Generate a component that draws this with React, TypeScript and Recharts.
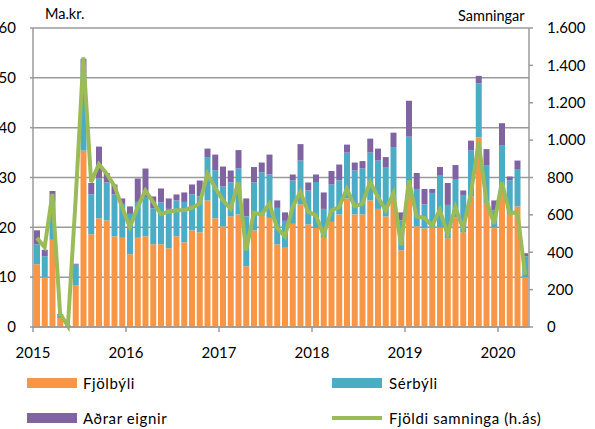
import { ComposedChart, Bar, Line, XAxis, YAxis, CartesianGrid } from "recharts";

const months = [
  "2015-01", "2015-02", "2015-03", "2015-04", "2015-05", "2015-06", "2015-07", "2015-08", "2015-09", "2015-10", "2015-11", "2015-12",
  "2016-01", "2016-02", "2016-03", "2016-04", "2016-05", "2016-06", "2016-07", "2016-08", "2016-09", "2016-10", "2016-11", "2016-12",
  "2017-01", "2017-02", "2017-03", "2017-04", "2017-05", "2017-06", "2017-07", "2017-08", "2017-09", "2017-10", "2017-11", "2017-12",
  "2018-01", "2018-02", "2018-03", "2018-04", "2018-05", "2018-06", "2018-07", "2018-08", "2018-09", "2018-10", "2018-11", "2018-12",
  "2019-01", "2019-02", "2019-03", "2019-04", "2019-05", "2019-06", "2019-07", "2019-08", "2019-09", "2019-10", "2019-11", "2019-12",
  "2020-01", "2020-02", "2020-03", "2020-04",
];

// Ma.kr. (vinstri ás)
const fjolbyli = [
  12.6, 10.0, 17.5, 1.8, 0.3, 8.3, 35.4, 18.6, 21.8, 21.4, 18.2, 17.9,
  14.6, 17.9, 18.2, 16.6, 16.6, 15.8, 18.2, 17.0, 19.4, 19.0, 25.4, 21.8,
  20.2, 22.2, 22.6, 12.2, 19.4, 22.3, 21.9, 16.6, 15.9, 20.7, 24.6, 20.6,
  19.9, 17.9, 21.1, 22.6, 25.8, 22.6, 22.6, 25.4, 23.7, 22.2, 25.4, 15.4,
  27.5, 20.2, 19.8, 20.0, 20.0, 17.8, 22.0, 19.0, 26.2, 38.1, 24.9, 20.0,
  28.4, 22.7, 24.2, 10.0,
];
const serbyli = [
  4.0, 4.2, 7.8, 0.6, 0.1, 4.2, 15.7, 8.0, 8.0, 7.6, 8.4, 6.8,
  8.1, 7.2, 7.9, 7.2, 8.4, 7.9, 7.2, 8.1, 7.2, 7.2, 8.7, 9.6,
  8.0, 6.8, 9.2, 10.0, 9.6, 8.7, 8.7, 7.3, 5.4, 8.7, 8.8, 6.8,
  9.2, 5.8, 7.5, 6.8, 9.2, 8.8, 9.2, 9.6, 9.7, 9.9, 10.7, 6.0,
  10.7, 7.5, 4.8, 6.9, 10.5, 6.7, 7.7, 7.5, 9.2, 10.8, 7.6, 3.4,
  8.1, 6.7, 7.5, 4.2,
];
const adrarEignir = [
  2.8, 1.3, 2.0, 0.2, 0.0, 0.2, 2.7, 2.3, 6.4, 1.9, 2.0, 1.1,
  1.5, 4.7, 5.7, 2.4, 2.8, 2.1, 1.2, 1.9, 2.0, 3.2, 1.7, 3.2,
  4.0, 2.4, 3.7, 3.6, 3.1, 2.0, 4.0, 1.5, 1.7, 1.2, 3.3, 1.6,
  1.5, 3.3, 2.7, 3.2, 1.6, 1.6, 1.5, 2.8, 2.4, 2.0, 2.9, 1.6,
  7.2, 3.2, 3.1, 0.8, 1.6, 4.4, 2.8, 0.9, 2.0, 1.5, 3.2, 2.0,
  4.4, 0.8, 1.7, 0.6,
];
// Samningar (hægri ás)
const fjoldiSamninga = [
  477, 427, 712, 70, 5, 680, 1443, 775, 872, 820, 755, 641,
  534, 641, 730, 668, 604, 617, 625, 625, 638, 660, 820, 746,
  678, 633, 776, 410, 612, 601, 660, 530, 485, 642, 723, 616,
  598, 491, 624, 642, 740, 646, 660, 776, 696, 624, 715, 437,
  784, 591, 584, 543, 627, 495, 641, 526, 713, 989, 677, 552,
  775, 609, 614, 280,
];

const yearTicks = ["2015-01", "2016-01", "2017-01", "2018-01", "2019-01", "2020-01"];
const leftTicks = [0, 10, 20, 30, 40, 50, 60];
const rightTicks = [0, 200, 400, 600, 800, 1000, 1200, 1400, 1600];

const data = months.map((m, i) => ({
  m,
  fjolbyli: fjolbyli[i],
  serbyli: serbyli[i],
  adrar: adrarEignir[i],
  samningar: fjoldiSamninga[i],
}));

const W = 595;
const H = 429;
const PLOT_LEFT = 33;
const PLOT_RIGHT = 529;
const BAND = (PLOT_RIGHT - PLOT_LEFT) / months.length;
const FONT = "Lato, 'Open Sans', sans-serif";
const GRID = "#9a9a9a";

const fmtThousands = (v: number) =>
  v >= 1000 ? `${Math.floor(v / 1000)}.${String(v % 1000).padStart(3, "0")}` : String(v);

const YearTick = (props: any) => {
  const { x, y, payload } = props;
  const bx = x - BAND / 2; // year boundary is at the left edge of January
  return (
    <g>
      <line x1={bx} y1={y} x2={bx} y2={y + 5} stroke={GRID} strokeWidth={1.5} />
      <text x={bx} y={y + 31} textAnchor="middle" fontSize={15} fontFamily={FONT} fill="#000">
        {String(payload.value).slice(0, 4)}
      </text>
    </g>
  );
};

const swatch = (left: number, top: number, w: number, h: number, color: string) => (
  <div style={{ position: "absolute", left, top, width: w, height: h, background: color }} />
);

const legendText = (left: number, top: number, text: string) => (
  <div
    style={{
      position: "absolute",
      left,
      top,
      fontFamily: FONT,
      fontSize: 15,
      letterSpacing: 0.6,
      lineHeight: "18px",
      color: "#000",
      whiteSpace: "nowrap",
    }}
  >
    {text}
  </div>
);

export default function App() {
  return (
    <div style={{ position: "absolute", left: 0, top: 0, width: W, height: H, background: "#fff", overflow: "hidden" }}>
      <ComposedChart
        width={W}
        height={H}
        data={data}
        margin={{ top: 28, right: 0, bottom: 62, left: 0 }}
        barCategoryGap={1}
      >
        <CartesianGrid yAxisId="left" vertical={false} stroke={GRID} strokeWidth={1.5} />
        <XAxis
          dataKey="m"
          height={40}
          ticks={yearTicks}
          interval={0}
          tickLine={false}
          tickSize={0}
          tickMargin={0}
          axisLine={{ stroke: GRID, strokeWidth: 1.5 }}
          tick={<YearTick />}
        />
        <YAxis
          yAxisId="left"
          width={33}
          domain={[0, 60]}
          ticks={leftTicks}
          interval={0}
          tickSize={3}
          tickMargin={14}
          axisLine={{ stroke: GRID, strokeWidth: 1.5 }}
          tickLine={{ stroke: GRID, strokeWidth: 1.5 }}
          tick={{ fontSize: 15, fontFamily: FONT, fill: "#000" }}
        />
        <YAxis
          yAxisId="right"
          orientation="right"
          width={66}
          domain={[0, 1600]}
          ticks={rightTicks}
          interval={0}
          tickSize={4}
          tickMargin={14}
          tickFormatter={fmtThousands}
          axisLine={{ stroke: GRID, strokeWidth: 1.5 }}
          tickLine={{ stroke: GRID, strokeWidth: 1.5 }}
          tick={{ fontSize: 15, fontFamily: FONT, fill: "#000", textAnchor: "start" }}
        />
        <Bar yAxisId="left" dataKey="fjolbyli" name="Fjölbýli" stackId="a" fill="#F79646" isAnimationActive={false} />
        <Bar yAxisId="left" dataKey="serbyli" name="Sérbýli" stackId="a" fill="#4BACC6" isAnimationActive={false} />
        <Bar yAxisId="left" dataKey="adrar" name="Aðrar eignir" stackId="a" fill="#8064A2" isAnimationActive={false} />
        <Line
          yAxisId="right"
          type="linear"
          dataKey="samningar"
          name="Fjöldi samninga (h.ás)"
          stroke="#9BBB59"
          strokeWidth={4}
          dot={false}
          isAnimationActive={false}
        />
      </ComposedChart>

      <div style={{ position: "absolute", left: 45, top: 5, fontFamily: FONT, fontSize: 14.5, color: "#000" }}>Ma.kr.</div>
      <div style={{ position: "absolute", left: 458, top: 7, fontFamily: FONT, fontSize: 14.5, color: "#000" }}>Samningar</div>

      {swatch(27, 378, 50, 10, "#F79646")}
      {legendText(83, 374, "Fjölbýli")}
      {swatch(332, 378, 50, 10, "#4BACC6")}
      {legendText(389, 374, "Sérbýli")}
      {swatch(27, 413, 50, 10, "#8064A2")}
      {legendText(83, 409, "Aðrar eignir")}
      {swatch(332, 416, 50, 4, "#9BBB59")}
      {legendText(389, 409, "Fjöldi samninga (h.ás)")}
    </div>
  );
}
